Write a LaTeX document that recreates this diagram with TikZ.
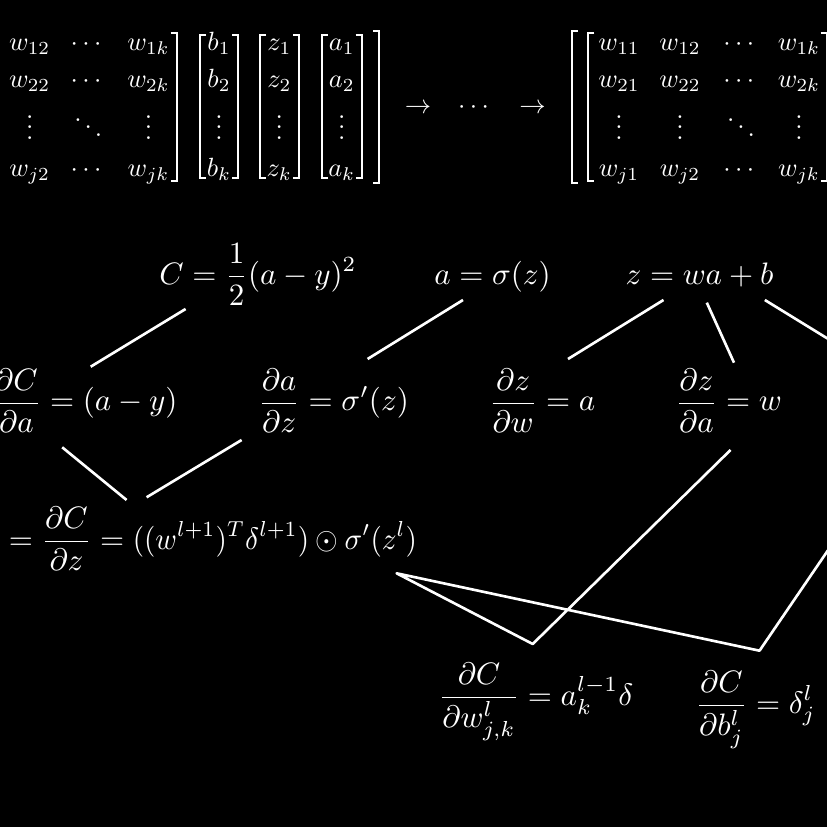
\documentclass[tikz,border=0pt]{standalone}
\usepackage{amsmath}
\usepackage{graphicx}
\newcommand\mxe[1]{\scalebox{0.85}{$#1$}}
\begin{document}
\begin{tikzpicture}[x=0.3226pt,y=-0.3226pt,
  eq/.style={text=white, inner sep=0pt, outer sep=0pt, anchor=base},
  ent/.style={text=white, inner sep=0pt, outer sep=0pt, anchor=base},
  link/.style={draw=white, line width=0.85pt, line join=round},
  brk/.style={draw=white, line width=0.6pt}]
\fill[black] (0,0) rectangle (827,827);
\useasboundingbox (0,0) rectangle (827,827);
\clip (0,0) rectangle (827,827);

% ---------- top row: left bracket group ----------
\foreach \r/\y in {1/51,2/88,j/177}{
  \node[ent] (L\r a) at (-31,\y)   {\mxe{w_{\r 1}}};
  \node[ent] (L\r b) at (29.7,\y)  {\mxe{w_{\r 2}}};
  \node[ent] (L\r c) at (88.3,\y)  {\mxe{\cdots}};
  \node[ent] (L\r d) at (148.5,\y) {\mxe{w_{\r k}}};
  \node[ent] (R\r a) at (619,\y)   {\mxe{w_{\r 1}}};
  \node[ent] (R\r b) at (680,\y)   {\mxe{w_{\r 2}}};
  \node[ent] (R\r c) at (741,\y)   {\mxe{\cdots}};
  \node[ent] (R\r d) at (799,\y)   {\mxe{w_{\r k}}};
}
\node[ent] (L3a) at (-31,139.5)  {\mxe{\vdots}};
\node[ent] (L3b) at (29.7,139.5) {\mxe{\vdots}};
\node[ent] (L3c) at (88.3,139.5) {\mxe{\ddots}};
\node[ent] (L3d) at (148.5,139.5){\mxe{\vdots}};
\node[ent] (R3a) at (619,139.5)  {\mxe{\vdots}};
\node[ent] (R3b) at (680,139.5)  {\mxe{\vdots}};
\node[ent] (R3c) at (741,139.5)  {\mxe{\ddots}};
\node[ent] (R3d) at (799,139.5)  {\mxe{\vdots}};

\foreach \v/\x in {b/219,z/279.3,a/341.7}{
  \node[ent] (\v1) at (\x,51)    {\mxe{\v_1}};
  \node[ent] (\v2) at (\x,88)    {\mxe{\v_2}};
  \node[ent] (\v3) at (\x,139.5) {\mxe{\vdots}};
  \node[ent] (\v4) at (\x,177)   {\mxe{\v_k}};
}

% brackets
\draw[brk] (170.7,33) -- (176.7,33) -- (176.7,181) -- (170.7,181);
\foreach \xl/\xr in {200/238.3,260/299,321.7/361.7}{
  \draw[brk] (\xl+6,35) -- (\xl,35) -- (\xl,178) -- (\xl+6,178);
  \draw[brk] (\xr-6,35) -- (\xr,35) -- (\xr,178) -- (\xr-6,178);
}
\draw[brk] (373.3,31) -- (379.3,31) -- (379.3,183) -- (373.3,183);
\draw[brk] (577.7,31) -- (571.7,31) -- (571.7,183) -- (577.7,183);
\draw[brk] (594.3,33) -- (588.3,33) -- (588.3,181) -- (594.3,181);
\draw[brk] (820.5,33) -- (826.5,33) -- (826.5,181) -- (820.5,181);

% arrows
\node[ent] (ar1) at (418,113.5)   {\mxe{\rightarrow}};
\node[ent] (ard) at (475.8,113.5) {\mxe{\cdots}};
\node[ent] (ar2) at (532.5,113.5) {\mxe{\rightarrow}};

% ---------- formulas ----------
\node[eq] (C)    at (258,284.5)   {$\displaystyle C=\frac{1}{2}(a-y)^2$};
\node[eq] (asig) at (492.5,284.5) {$\displaystyle a=\sigma(z)$};
\node[eq] (zwa)  at (699.5,284.5) {$\displaystyle z=wa+b$};

\node[eq,anchor=base east] (dCda) at (177.5,411) {$\displaystyle \frac{\partial C}{\partial a}=(a-y)$};
\node[eq] (dadz) at (333.5,411) {$\displaystyle \frac{\partial a}{\partial z}=\sigma'(z)$};
\node[eq] (dzdw) at (542,411)   {$\displaystyle \frac{\partial z}{\partial w}=a$};
\node[eq] (dzda) at (728.6,411) {$\displaystyle \frac{\partial z}{\partial a}=w$};

\node[eq,anchor=base east] (delta) at (417,549.5)
  {$\displaystyle \delta^l=\frac{\partial C}{\partial z}=\;$\scalebox{0.94}[1]{$\displaystyle ((w^{l+1})^T\delta^{l+1})\odot\sigma'(z^l)$}};

\node[eq] (dCdw) at (536,705)   {$\displaystyle \frac{\partial C}{\partial w^l_{j,k}}=a^{l-1}_k\delta$};
\node[eq] (dCdb) at (755.5,713.5) {$\displaystyle \frac{\partial C}{\partial b^l_j}=\delta^l_j$};

% ---------- connector end points ----------
\coordinate (C-s)    at (185.6,309);
\coordinate (dCda-n) at (90.7,366.7);
\coordinate (asig-s) at (463,300);
\coordinate (dadz-n) at (367.6,359);
\coordinate (zwa-s1) at (663.5,300);
\coordinate (dzdw-n) at (568,359);
\coordinate (zwa-s2) at (706.8,302.7);
\coordinate (dzda-n) at (734,362.7);
\coordinate (zwa-s3) at (764.8,300);
\coordinate (offA)   at (860,358.5);
\coordinate (dCda-s) at (62.2,447.3);
\coordinate (dadz-s) at (241.6,440);
\coordinate (delta-n1) at (126.6,500);
\coordinate (delta-n2) at (146.6,497.3);
\coordinate (dzda-s) at (730.5,450);
\coordinate (dCdw-n) at (532.7,644);
\coordinate (delta-e) at (396.6,573.3);
\coordinate (dCdb-n) at (759.5,650.7);
\coordinate (offB)   at (851,516.5);

\draw[link] (C-s) -- (dCda-n);
\draw[link] (asig-s) -- (dadz-n);
\draw[link] (zwa-s1) -- (dzdw-n);
\draw[link] (zwa-s2) -- (dzda-n);
\draw[link] (zwa-s3) -- (offA);
\draw[link] (dCda-s) -- (delta-n1);
\draw[link] (dadz-s) -- (delta-n2);
\draw[link] (dzda-s) -- (dCdw-n) -- (delta-e) -- (dCdb-n) -- (offB);
\end{tikzpicture}
\end{document}
